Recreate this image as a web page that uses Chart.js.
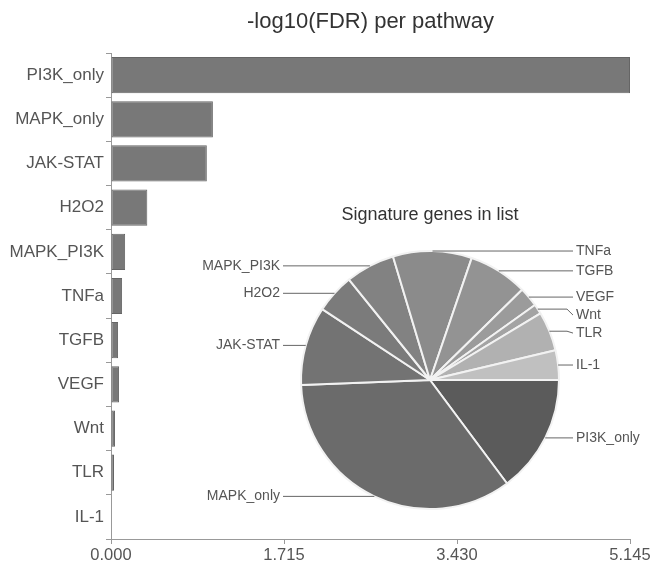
<!DOCTYPE html>
<html>
<head>
<meta charset="utf-8">
<script src="https://cdn.jsdelivr.net/npm/chart.js@4.4.1/dist/chart.umd.min.js"></script>
<style>
  html, body { margin: 0; padding: 0; background: #fff; }
  #wrap { position: relative; width: 660px; height: 574px; }
  #bar-chart { position: absolute; left: 0; top: 0; }
  #pie-chart { position: absolute; left: 160px; top: 200px; }
</style>
</head>
<body>
<div id="wrap">
  <canvas id="bar-chart" width="660" height="574"></canvas>
  <canvas id="pie-chart" width="500" height="320"></canvas>
</div>
<script>
const pathways = ['PI3K_only', 'MAPK_only', 'JAK-STAT', 'H2O2', 'MAPK_PI3K', 'TNFa', 'TGFB', 'VEGF', 'Wnt', 'TLR', 'IL-1'];
const fdrScores = [5.145, 1.01, 0.95, 0.36, 0.14, 0.11, 0.07, 0.08, 0.04, 0.03, 0.005];
const geneCounts = [12, 28, 8, 4, 5, 8, 6, 2, 1, 4, 3];
const xTicks = [0, 1.715, 3.430, 5.145];
const pieColors = ['#5b5b5b', '#6b6b6b', '#737373', '#7b7b7b', '#828282', '#8b8b8b', '#939393', '#9b9b9b', '#a3a3a3', '#b1b1b1', '#c0c0c0'];

const FONT = '"Liberation Sans", Arial, Helvetica, sans-serif';

document.addEventListener('DOMContentLoaded', function() {
    const barCtx = document.getElementById('bar-chart').getContext('2d');
    new Chart(barCtx, {
        type: 'bar',
        data: {
            labels: pathways,
            datasets: [{
                data: fdrScores,
                backgroundColor: '#787878',
                borderColor: '#656565',
                borderWidth: 1,
                borderSkipped: false,
                barPercentage: 0.82,
                categoryPercentage: 1
            }]
        },
        options: {
            indexAxis: 'y',
            responsive: false,
            animation: false,
            layout: { padding: { left: 0, right: 30, top: 0, bottom: 0 } },
            scales: {
                x: {
                    min: 0,
                    max: 5.145,
                    afterBuildTicks: axis => { axis.ticks = xTicks.map(v => ({ value: v })); },
                    afterFit: axis => { axis.height = 35; },
                    grid: { drawOnChartArea: false, drawTicks: true, tickLength: 5, color: '#999' },
                    border: { color: '#999', width: 1 },
                    ticks: {
                        callback: v => Number(v).toFixed(3),
                        font: { family: FONT, size: 16.5 },
                        color: '#555',
                        padding: 2,
                        maxRotation: 0
                    }
                },
                y: {
                    afterFit: axis => { axis.width = 111; },
                    grid: { drawOnChartArea: false, drawTicks: true, tickLength: 5, color: '#999' },
                    border: { color: '#999', width: 1 },
                    ticks: {
                        font: { family: FONT, size: 17 },
                        color: '#555',
                        padding: 2
                    }
                }
            },
            plugins: {
                legend: { display: false },
                tooltip: { enabled: false },
                title: {
                    display: true,
                    fullSize: false,
                    text: '-log10(FDR) per pathway',
                    font: { family: FONT, size: 22, weight: 'normal' },
                    color: '#333',
                    padding: { top: 8.8, bottom: 17.8 }
                }
            }
        }
    });

    // leader lines + outside labels for the pie
    const pieLabels = {
        id: 'pieLabels',
        afterDatasetsDraw(chart) {
            const ctx = chart.ctx;
            const arcs = chart.getDatasetMeta(0).data;
            const right = [], left = [];
            arcs.forEach((arc, i) => {
                const mid = (arc.startAngle + arc.endAngle) / 2;
                const r = arc.outerRadius;
                const px = arc.x + Math.cos(mid) * r;
                const py = arc.y + Math.sin(mid) * r;
                const item = { label: chart.data.labels[i], px, py, ly: py };
                (Math.cos(mid) >= 0 ? right : left).push(item);
            });
            [right, left].forEach(side => {
                side.sort((a, b) => a.py - b.py);
                for (let i = 1; i < side.length; i++) {
                    if (side[i].ly - side[i - 1].ly < 18) side[i].ly = side[i - 1].ly + 18;
                }
            });
            const cx = arcs[0].x;
            const rightEnd = cx + 143;
            const leftEnd = cx - 147;
            ctx.save();
            ctx.strokeStyle = '#666';
            ctx.lineWidth = 1;
            ctx.fillStyle = '#555';
            ctx.font = '14px ' + FONT;
            ctx.textBaseline = 'middle';
            right.forEach(it => {
                ctx.beginPath();
                ctx.moveTo(it.px, it.py);
                ctx.lineTo(rightEnd - 6, it.py);
                ctx.lineTo(rightEnd, it.ly);
                ctx.stroke();
                ctx.textAlign = 'left';
                ctx.fillText(it.label, rightEnd + 3, it.ly);
            });
            left.forEach(it => {
                ctx.beginPath();
                ctx.moveTo(it.px, it.py);
                ctx.lineTo(leftEnd + 6, it.py);
                ctx.lineTo(leftEnd, it.ly);
                ctx.stroke();
                ctx.textAlign = 'right';
                ctx.fillText(it.label, leftEnd - 3, it.ly);
            });
            ctx.restore();
        }
    };

    const pieCtx = document.getElementById('pie-chart').getContext('2d');
    new Chart(pieCtx, {
        type: 'pie',
        data: {
            labels: pathways,
            datasets: [{
                data: geneCounts,
                backgroundColor: pieColors,
                borderColor: '#f2f2f2',
                borderWidth: 2
            }]
        },
        options: {
            responsive: false,
            animation: false,
            rotation: 90,
            layout: { padding: { left: 140, right: 100, top: 0, bottom: 10 } },
            plugins: {
                legend: { display: false },
                tooltip: { enabled: false },
                title: {
                    display: true,
                    text: 'Signature genes in list',
                    font: { family: FONT, size: 18, weight: 'normal' },
                    color: '#333',
                    padding: { top: 4.2, bottom: 24.2 }
                }
            }
        },
        plugins: [pieLabels]
    });
});
</script>
</body>
</html>
